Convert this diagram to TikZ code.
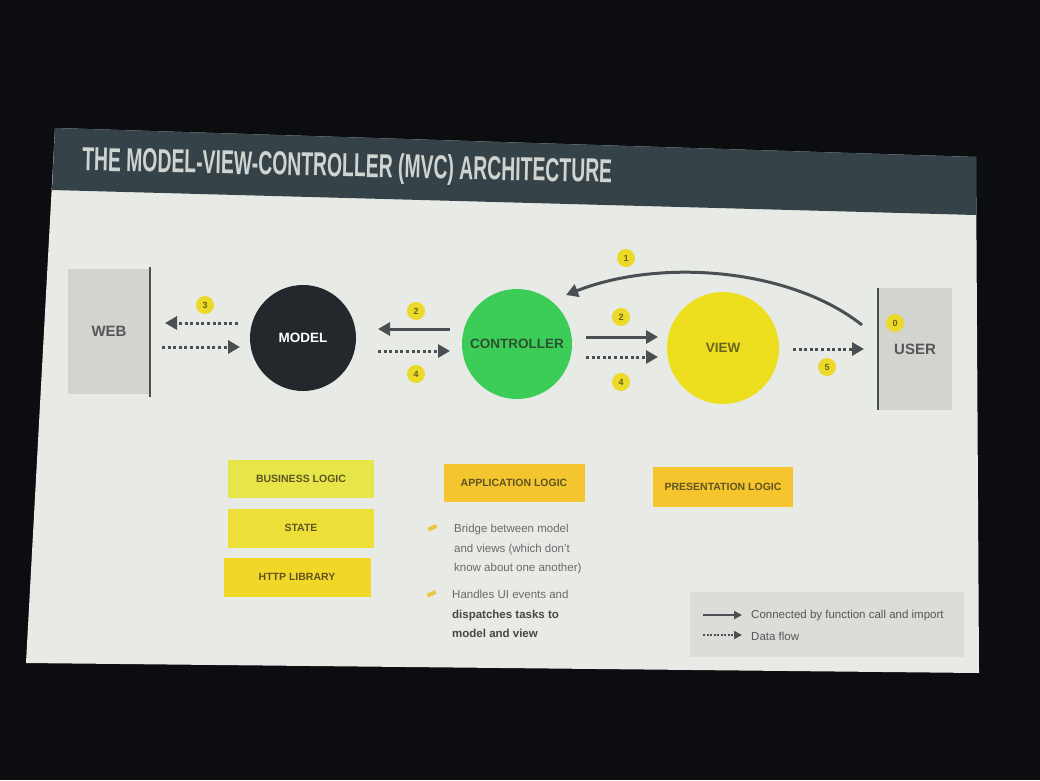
\documentclass[tikz,border=0pt]{standalone}
\usepackage{fontspec}
\setmainfont{Liberation Sans}
\usepackage{graphicx}
\usetikzlibrary{arrows.meta,calc}

\definecolor{roomdark}{RGB}{12,13,16}
\definecolor{slidebody}{RGB}{232,234,230}
\definecolor{titlebar}{RGB}{53,67,73}
\definecolor{titletext}{RGB}{208,212,209}
\definecolor{edgegray}{RGB}{75,78,82}
\definecolor{sidebox}{RGB}{211,211,208}
\definecolor{sidetext}{RGB}{85,87,88}
\definecolor{modelfill}{RGB}{36,40,45}
\definecolor{ctrlfill}{RGB}{60,205,88}
\definecolor{ctrltext}{RGB}{45,80,50}
\definecolor{viewfill}{RGB}{238,222,32}
\definecolor{viewtext}{RGB}{105,100,30}
\definecolor{badgefill}{RGB}{236,218,42}
\definecolor{badgetext}{RGB}{110,95,20}
\definecolor{bizfill}{RGB}{230,229,74}
\definecolor{statefill}{RGB}{238,223,56}
\definecolor{httpfill}{RGB}{241,216,40}
\definecolor{appfill}{RGB}{243,197,46}
\definecolor{presfill}{RGB}{246,196,44}
\definecolor{boxtext}{RGB}{95,85,35}
\definecolor{bodytext}{RGB}{105,106,106}
\definecolor{boldtext}{RGB}{70,72,72}
\definecolor{legendfill}{RGB}{220,220,217}
\definecolor{bulletmark}{RGB}{232,200,70}

\begin{document}
\begin{tikzpicture}[x=1pt,y=-1pt,
  sidepanel/.style={fill=sidebox, text=sidetext, inner sep=0pt,
    font=\bfseries\fontsize{15}{15}\selectfont},
  role/.style={circle, inner sep=0pt, minimum size=#1, font=\bfseries\fontsize{13.5}{13.5}\selectfont},
  badge/.style={circle, fill=badgefill, text=badgetext, inner sep=0pt,
    minimum size=18pt, font=\bfseries\fontsize{9}{9}\selectfont},
  logicbox/.style={fill=#1, text=boxtext, inner sep=0pt,
    font=\bfseries\fontsize{10.5}{10.5}\selectfont},
  call/.style={draw=edgegray, line width=3pt,
    -{Triangle[length=12pt,width=13pt]}},
  flow/.style={call, dash pattern=on 3pt off 2.6pt},
  bullettext/.style={anchor=north west, align=left, inner sep=0pt, text=bodytext,
    font=\fontsize{11.5}{19.5}\selectfont},
  legendtext/.style={anchor=west, inner sep=0pt, text=sidetext,
    font=\fontsize{11.5}{11.5}\selectfont}]
\useasboundingbox (0,0) rectangle (1040,780);

% room and projected slide
\fill[roomdark] (0,0) rectangle (1040,780);
\fill[slidebody] (55,128) -- (976,157) -- (979,673) -- (26,663) -- cycle;
\fill[titlebar] (55,128) -- (976,157) -- (976,215) -- (52,190) -- cycle;
\node[anchor=west, rotate=-1.3, inner sep=0pt, text=titletext] (title) at (82,162)
  {\resizebox{530pt}{24pt}{\bfseries THE MODEL-VIEW-CONTROLLER (MVC) ARCHITECTURE}};

% side panels
\node[sidepanel, minimum width=82pt, minimum height=125pt] (web) at (109,331) {WEB};
\draw[edgegray, line width=2.5pt] ($(web.north east)+(0,-1)$) -- ($(web.south east)+(0,3)$);
\node[sidepanel, minimum width=74pt, minimum height=122pt] (user) at (915,349) {USER};
\draw[edgegray, line width=2.5pt] (user.north west) -- (user.south west);

% the three roles
\node[role=106pt, fill=modelfill, text=white] (model) at (303,338) {MODEL};
\node[role=110pt, fill=ctrlfill, text=ctrltext] (ctrl) at (517,344) {CONTROLLER};
\node[role=112pt, fill=viewfill, text=viewtext] (view) at (723,348) {VIEW};

% arrow end points
\coordinate (wm1s) at (238,323); \coordinate (wm1e) at (165,323);
\coordinate (wm2s) at (162,347); \coordinate (wm2e) at (240,347);
\coordinate (mc1s) at (450,329); \coordinate (mc1e) at (378,329);
\coordinate (mc2s) at (378,351); \coordinate (mc2e) at (450,351);
\coordinate (cv1s) at (586,337); \coordinate (cv1e) at (658,337);
\coordinate (cv2s) at (586,357); \coordinate (cv2e) at (658,357);
\coordinate (vu1s) at (793,349); \coordinate (vu1e) at (864,349);
\coordinate (uc1s) at (862,325); \coordinate (uc1e) at (566,295);

\draw[flow] (wm1s) -- (wm1e);
\draw[flow] (wm2s) -- (wm2e);
\draw[call] (mc1s) -- (mc1e);
\draw[flow] (mc2s) -- (mc2e);
\draw[call] (cv1s) -- (cv1e);
\draw[flow] (cv2s) -- (cv2e);
\draw[flow] (vu1s) -- (vu1e);
\draw[call] (uc1s) .. controls (790,268) and (660,258) .. (uc1e);

% step numbers
\node[badge] (n3) at (205,305) {3};
\node[badge] (n2a) at (416,311) {2};
\node[badge] (n4a) at (416,374) {4};
\node[badge] (n2b) at (621,317) {2};
\node[badge] (n4b) at (621,382) {4};
\node[badge] (n5) at (827,367) {5};
\node[badge] (n0) at (895,323) {0};
\node[badge] (n1) at (626,258) {1};

% responsibilities
\node[logicbox=bizfill, minimum width=146pt, minimum height=38pt] (biz) at (301,479) {BUSINESS LOGIC};
\node[logicbox=statefill, minimum width=146pt, minimum height=39pt] (state) at (301,528) {STATE};
\node[logicbox=httpfill, minimum width=147pt, minimum height=39pt] (http) at (297,577) {HTTP LIBRARY};
\node[logicbox=appfill, minimum width=141pt, minimum height=38pt] (app) at (514,483) {APPLICATION LOGIC};
\node[logicbox=presfill, minimum width=140pt, minimum height=40pt] (pres) at (723,487) {PRESENTATION LOGIC};

% controller notes
\node[bullettext] (note1) at (454,524)
  {Bridge between model\\and views (which don't\\know about one another)};
\node[bullettext] (note2) at (452,590)
  {Handles UI events and\\\textcolor{boldtext}{\bfseries dispatches tasks to}\\\textcolor{boldtext}{\bfseries model and view}};
\fill[bulletmark, rotate around={25:(432,528)}] (428,526) rectangle (437,530);
\fill[bulletmark, rotate around={25:(431,594)}] (427,592) rectangle (436,596);

% legend
\node[fill=legendfill, minimum width=274pt, minimum height=65pt, inner sep=0pt] (legend) at (827,624) {};
\coordinate (lg1s) at (703,615); \coordinate (lg1e) at (742,615);
\coordinate (lg2s) at (703,635); \coordinate (lg2e) at (742,635);
\draw[draw=edgegray, line width=2pt, -{Triangle[length=8pt,width=8pt]}] (lg1s) -- (lg1e);
\draw[draw=edgegray, line width=2pt, dash pattern=on 2pt off 1.5pt, -{Triangle[length=8pt,width=8pt]}] (lg2s) -- (lg2e);
\node[legendtext] (lgt1) at (751,616) {Connected by function call and import};
\node[legendtext] (lgt2) at (751,636) {Data flow};
\end{tikzpicture}
\end{document}
